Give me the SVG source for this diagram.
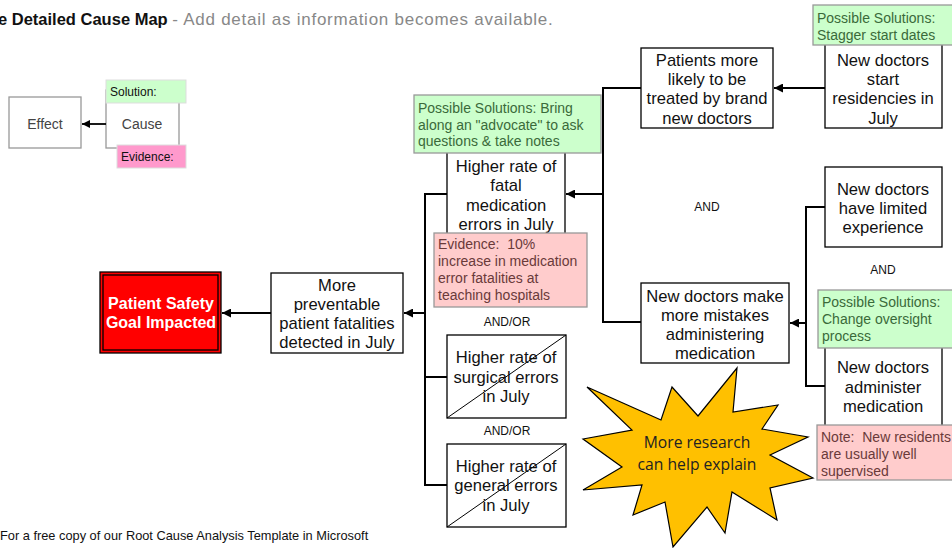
<svg xmlns="http://www.w3.org/2000/svg" width="952" height="548" viewBox="0 0 952 548">
<style>
text{font-family:"Liberation Sans",Arial,sans-serif}
.n{fill:#fff;stroke:#000;stroke-width:1.3}
.t{font-size:16.6px;fill:#111;text-anchor:middle}
.sol{fill:#ccffcc;stroke:#999;stroke-width:1.3}
.ev{fill:#ffcccc;stroke:#999;stroke-width:1.3}
.st{font-size:14px;fill:#3a6a3a}
.et{font-size:14px;fill:#6a3a3a}
.lbl{font-size:12px;fill:#111;text-anchor:middle}
.c{fill:none;stroke:#000;stroke-width:2}
.x{stroke:#000;stroke-width:1}
</style>
<defs>
<marker id="ah" viewBox="0 0 10 10" refX="10" refY="5" markerWidth="4.5" markerHeight="4.5" orient="auto" markerUnits="strokeWidth">
<path d="M0,0 L10,5 L0,10 z" fill="#000"/>
</marker>
</defs>
<rect width="952" height="548" fill="#fff"/>

<g id="title">
<text x="-2" y="25" style="font-size:16.5px;font-weight:bold;fill:#111">e Detailed Cause Map <tspan style="font-weight:normal;font-size:17px;fill:#888;letter-spacing:0.75px"> - Add detail as information becomes available.</tspan></text>
</g>

<g id="legend">
<rect x="9" y="97" width="72" height="51" fill="#fff" stroke="#999" stroke-width="1.3"/>
<text x="45" y="129" style="font-size:14px;fill:#444;text-anchor:middle">Effect</text>
<rect x="106" y="90" width="73" height="58" fill="#fff" stroke="#999" stroke-width="1.3"/>
<text x="142" y="129" style="font-size:14px;fill:#444;text-anchor:middle">Cause</text>
<rect x="106" y="80" width="80" height="23" fill="#ccffcc" stroke="#ddd" stroke-width="1"/>
<text x="110" y="96" style="font-size:12px;fill:#111">Solution:</text>
<rect x="117" y="145" width="69" height="23" fill="#ff99cc" stroke="#ddd" stroke-width="1"/>
<text x="121" y="161" style="font-size:12px;fill:#111">Evidence:</text>
<line x1="106" y1="124" x2="82" y2="124" stroke="#000" stroke-width="1.8" marker-end="url(#ah)"/>
</g>

<g id="connectors">
<line class="c" x1="271" y1="313" x2="222" y2="313" marker-end="url(#ah)"/>
<line class="c" x1="425" y1="313" x2="404" y2="313" marker-end="url(#ah)"/>
<polyline class="c" points="447,194 425,194 425,485 447,485"/>
<line class="c" x1="425" y1="377" x2="447" y2="377"/>
<line class="c" x1="603" y1="194" x2="566" y2="194" marker-end="url(#ah)"/>
<polyline class="c" points="641,88 603,88 603,322 641,322"/>
<line class="c" x1="825" y1="88" x2="774" y2="88" marker-end="url(#ah)"/>
<polyline class="c" points="825,207 806,207 806,386 825,386"/>
<line class="c" x1="806" y1="323" x2="790" y2="323" marker-end="url(#ah)"/>
</g>

<g id="goal">
<rect x="100" y="272" width="121" height="81" fill="#ff0000" stroke="#000" stroke-width="1.3"/>
<rect x="103" y="275" width="115" height="75" fill="none" stroke="#000" stroke-width="1.3"/>
<text x="161" y="309" style="font-size:16px;font-weight:bold;fill:#fff;text-anchor:middle">Patient Safety</text>
<text x="161" y="328" style="font-size:16px;font-weight:bold;fill:#fff;text-anchor:middle">Goal Impacted</text>
</g>

<g id="preventable">
<rect class="n" x="271" y="273" width="132" height="80"/>
<text class="t" x="337" y="291">More</text>
<text class="t" x="337" y="310">preventable</text>
<text class="t" x="337" y="329">patient fatalities</text>
<text class="t" x="337" y="348">detected in July</text>
</g>

<g id="fatal">
<rect class="n" x="447" y="140" width="118" height="100"/>
<rect class="sol" x="414" y="95" width="187" height="58"/>
<text class="st" x="418" y="113">Possible Solutions: Bring</text>
<text class="st" x="418" y="130">along an "advocate" to ask</text>
<text class="st" x="418" y="146">questions &amp; take notes</text>
<text class="t" x="506" y="172">Higher rate of</text>
<text class="t" x="506" y="191">fatal</text>
<text class="t" x="506" y="211">medication</text>
<text class="t" x="506" y="230">errors in July</text>
<rect class="ev" x="434" y="233" width="153" height="74"/>
<text class="et" x="438" y="249">Evidence:&#160; 10%</text>
<text class="et" x="438" y="266">increase in medication</text>
<text class="et" x="438" y="283">error fatalities at</text>
<text class="et" x="438" y="300">teaching hospitals</text>
</g>

<text class="lbl" x="507" y="326">AND/OR</text>

<g id="surgical">
<rect class="n" x="447" y="335" width="119" height="83"/>
<line class="x" x1="447" y1="418" x2="566" y2="335"/>
<text class="t" x="506" y="363">Higher rate of</text>
<text class="t" x="506" y="383">surgical errors</text>
<text class="t" x="506" y="402">in July</text>
</g>

<text class="lbl" x="507" y="435">AND/OR</text>

<g id="general">
<rect class="n" x="447" y="444" width="119" height="83"/>
<line class="x" x1="447" y1="527" x2="566" y2="444"/>
<text class="t" x="506" y="472">Higher rate of</text>
<text class="t" x="506" y="491">general errors</text>
<text class="t" x="506" y="511">in July</text>
</g>

<g id="patients">
<rect class="n" x="641" y="48" width="132" height="80"/>
<text class="t" x="707" y="66">Patients more</text>
<text class="t" x="707" y="85">likely to be</text>
<text class="t" x="707" y="104">treated by brand</text>
<text class="t" x="707" y="124">new doctors</text>
</g>

<g id="start">
<rect class="n" x="825" y="40" width="117" height="88"/>
<rect class="sol" x="813" y="5" width="145" height="40"/>
<text class="st" x="817" y="23">Possible Solutions:</text>
<text class="st" x="817" y="40">Stagger start dates</text>
<text class="t" x="883" y="66">New doctors</text>
<text class="t" x="883" y="85">start</text>
<text class="t" x="883" y="104">residencies in</text>
<text class="t" x="883" y="124">July</text>
</g>

<text class="lbl" x="707" y="211">AND</text>

<g id="mistakes">
<rect class="n" x="641" y="283" width="148" height="80"/>
<text class="t" x="715" y="302">New doctors make</text>
<text class="t" x="715" y="321">more mistakes</text>
<text class="t" x="715" y="340">administering</text>
<text class="t" x="715" y="359">medication</text>
</g>

<g id="limited">
<rect class="n" x="825" y="167" width="117" height="80"/>
<text class="t" x="883" y="195">New doctors</text>
<text class="t" x="883" y="214">have limited</text>
<text class="t" x="883" y="233">experience</text>
</g>

<text class="lbl" x="883" y="274">AND</text>

<g id="administer">
<rect class="n" x="825" y="330" width="117" height="100"/>
<rect class="sol" x="818" y="290" width="140" height="58"/>
<text class="st" x="822" y="307">Possible Solutions:</text>
<text class="st" x="822" y="324">Change oversight</text>
<text class="st" x="822" y="341">process</text>
<text class="t" x="883" y="373">New doctors</text>
<text class="t" x="883" y="393">administer</text>
<text class="t" x="883" y="412">medication</text>
<rect class="ev" x="817" y="425" width="145" height="55"/>
<text class="et" x="821" y="442">Note:&#160; New residents</text>
<text class="et" x="821" y="459">are usually well</text>
<text class="et" x="821" y="476">supervised</text>
</g>

<g id="research">
<polygon points="587,387 661,420 672,387 698,416 737,368 733,412 778,405 762,429 808,437 770,455 813,478 770,488 777,520 732,492 725,533 707,507 673,547 665,502 633,515 642,485 583,490 622,467 583,439 632,430" fill="#ffc000" stroke="#000" stroke-width="1.2" stroke-linejoin="miter"/>
<text x="697" y="448" style="font-family:'Open Sans','Noto Sans',sans-serif;font-size:15.7px;fill:#222;text-anchor:middle">More research</text>
<text x="697" y="470" style="font-family:'Open Sans','Noto Sans',sans-serif;font-size:15.7px;fill:#222;text-anchor:middle">can help explain</text>
</g>

<g id="footer">
<text x="0" y="540" style="font-size:12.8px;fill:#111">For a free copy of our Root Cause Analysis Template in Microsoft</text>
</g>
</svg>
